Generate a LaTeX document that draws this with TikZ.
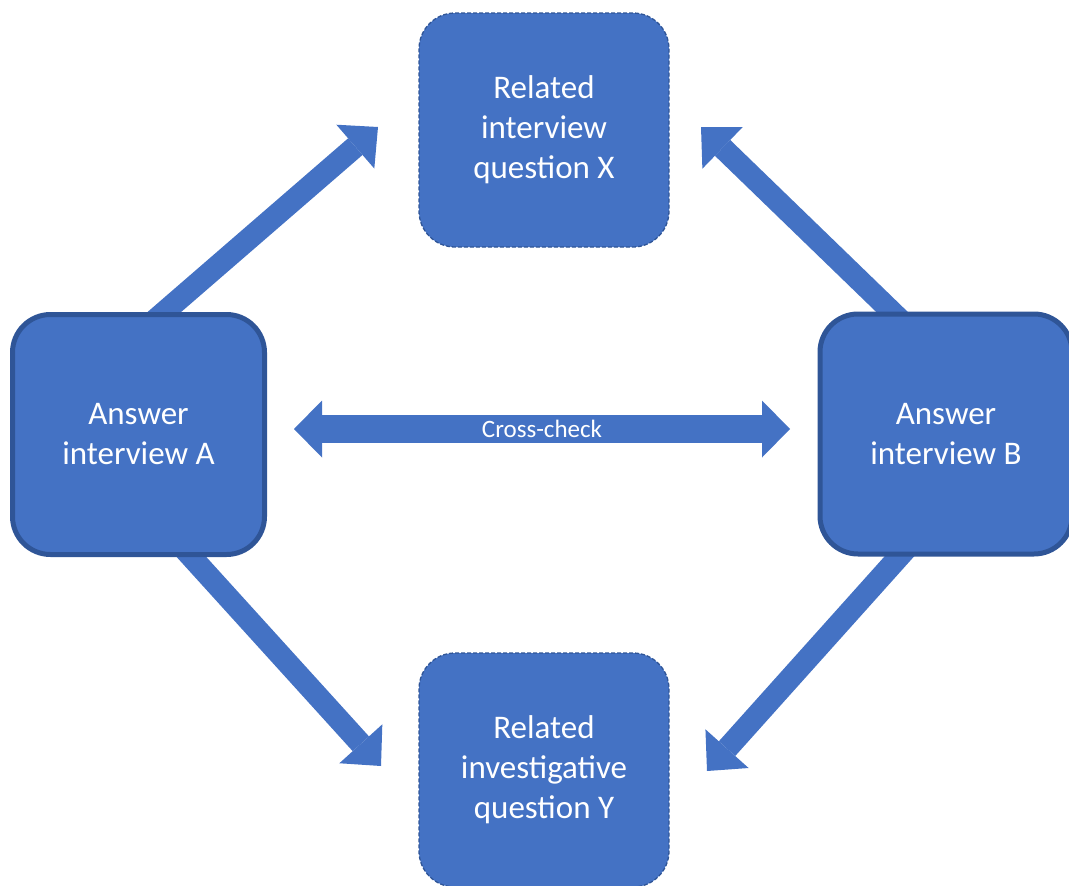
\documentclass[tikz,border=0pt]{standalone}
\usepackage{fontspec}
\setmainfont{Carlito}
\usetikzlibrary{arrows.meta}
\definecolor{boxblue}{HTML}{4472C4}
\definecolor{rimblue}{HTML}{2F5597}
\pgfdeclarelayer{bg}
\pgfsetlayers{bg,main}
\begin{document}
\begin{tikzpicture}[x=1pt,y=-1pt,
  answerbox/.style={rectangle, rounded corners=38pt, fill=boxblue, draw=rimblue,
    line width=5pt, minimum width=252pt, minimum height=240pt, text=white,
    align=center, font=\fontsize{33}{40}\selectfont},
  relatedbox/.style={rectangle, rounded corners=36pt, fill=boxblue, draw=rimblue,
    line width=1.3pt, dash pattern=on 4pt off 2pt, minimum width=250pt,
    minimum height=234pt, text=white, align=center,
    font=\fontsize{33}{40}\selectfont},
  blockarrow/.style={draw=boxblue, line width=22pt,
    -{Triangle[length=30pt,width=58pt,line width=0pt]}},
  crossarrow/.style={draw=boxblue, line width=28pt,
    {Triangle[length=28pt,width=57pt,line width=0pt]}-{Triangle[length=28pt,width=57pt,line width=0pt]}},
]
\useasboundingbox (0,0) rectangle (1069,886);

% the four boxes
\node[relatedbox] (X) at (544,130) {Related\\interview\\question X};
\node[relatedbox] (Y) at (544,770) {Related\\investigative\\question Y};
\node[answerbox] (A) at (138.5,434.5) {Answer\\interview A};
\node[answerbox] (B) at (946,434) {Answer\\interview B};

% arrow ends
\coordinate (ax-tail) at (132,340);
\coordinate (ax-tip) at (378,127);
\coordinate (bx-tail) at (921,340);
\coordinate (bx-tip) at (701,127);
\coordinate (ay-tail) at (167,530);
\coordinate (ay-tip) at (381,766);
\coordinate (by-tail) at (923,530);
\coordinate (by-tip) at (707,771);
\coordinate (cc-left) at (294,429);
\coordinate (cc-right) at (790,429);

% arrows run behind the answer boxes
\begin{pgfonlayer}{bg}
  \draw[blockarrow] (ax-tail) -- (ax-tip);
  \draw[blockarrow] (bx-tail) -- (bx-tip);
  \draw[blockarrow] (ay-tail) -- (ay-tip);
  \draw[blockarrow] (by-tail) -- (by-tip);
\end{pgfonlayer}

\draw[crossarrow] (cc-left) -- node[text=white, font=\fontsize{25}{28}\selectfont] (cc) {Cross-check} (cc-right);
\end{tikzpicture}
\end{document}
